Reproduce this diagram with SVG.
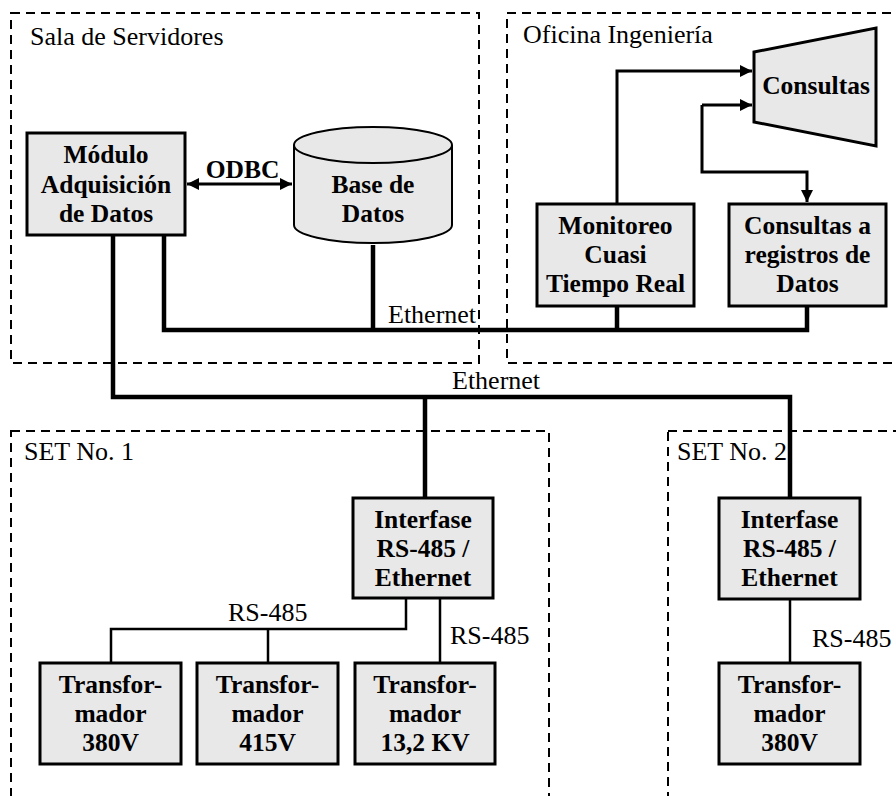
<svg xmlns="http://www.w3.org/2000/svg" width="896" height="796" viewBox="0 0 896 796">
<style>
.zone{fill:none;stroke:#000;stroke-width:2;stroke-dasharray:9 6}
.box{fill:#e8e8e8;stroke:#000;stroke-width:3}
.cyl{fill:#e8e8e8;stroke:#000;stroke-width:2}
.eth{fill:none;stroke:#000;stroke-width:4.5;stroke-linejoin:miter}
.arr{fill:none;stroke:#000;stroke-width:3}
.rs{fill:none;stroke:#000;stroke-width:2.5}
text{font-family:"Liberation Serif","Times New Roman",serif;font-size:26px;fill:#000}
.b{font-weight:bold;text-anchor:middle;font-size:25.5px}
</style>
<defs>
<marker id="ah" viewBox="0 0 10 10" refX="10" refY="5" markerWidth="4.5" markerHeight="4" markerUnits="strokeWidth" orient="auto-start-reverse">
<path d="M0,0 L10,5 L0,10 z" fill="#000"/>
</marker>
</defs>
<g id="zones">
<rect class="zone" x="11" y="13" width="468" height="350"/>
<text x="30" y="45">Sala de Servidores</text>
<rect class="zone" x="507" y="13" width="400" height="350"/>
<text x="523" y="43">Oficina Ingeniería</text>
<rect class="zone" x="11" y="431" width="538" height="380"/>
<text x="24" y="460">SET No. 1</text>
<rect class="zone" x="668" y="431" width="240" height="380"/>
<text x="677" y="460">SET No. 2</text>
</g>
<g id="connectors">
<path class="eth" d="M164,235 V330 H807 V306"/>
<path class="eth" d="M373,245 V330"/>
<path class="eth" d="M617,306 V330"/>
<path class="eth" d="M113,235 V397 H790 V498"/>
<path class="eth" d="M425,397 V498"/>
<text x="388" y="323">Ethernet</text>
<text x="452" y="389">Ethernet</text>
<path class="arr" d="M187,184 H292" marker-start="url(#ah)" marker-end="url(#ah)"/>
<text class="b" x="242.5" y="178">ODBC</text>
<path class="arr" d="M617,204 V71 H752" marker-end="url(#ah)"/>
<path class="arr" d="M702,105 H752" marker-end="url(#ah)"/>
<path class="arr" d="M702,105 V172 H807 V202" marker-end="url(#ah)"/>
<path class="rs" d="M406,598 V629 H111 V663"/>
<path class="rs" d="M268,629 V663"/>
<path class="rs" d="M440,598 V663"/>
<path class="rs" d="M790,599 V663"/>
<text x="228" y="621">RS-485</text>
<text x="450" y="644">RS-485</text>
<text x="812" y="647">RS-485</text>
</g>
<g id="modulo">
<rect class="box" x="27" y="133" width="158" height="102"/>
<text class="b" x="106" y="163">Módulo</text>
<text class="b" x="106" y="193">Adquisición</text>
<text class="b" x="106" y="222">de Datos</text>
</g>
<g id="basedatos">
<path class="cyl" d="M294,145 V225 A79,18 0 0 0 452,225 V145 A79,18 0 0 0 294,145 Z"/>
<path class="cyl" d="M294,145 A79,18 0 0 0 452,145"/>
<text class="b" x="373" y="193">Base de</text>
<text class="b" x="373" y="222">Datos</text>
</g>
<g id="consultas">
<polygon class="box" points="754,52 876,28 876,146 754,122"/>
<text class="b" x="816" y="94">Consultas</text>
</g>
<g id="monitoreo">
<rect class="box" x="537" y="204" width="157" height="102"/>
<text class="b" x="615.5" y="234">Monitoreo</text>
<text class="b" x="615.5" y="263">Cuasi</text>
<text class="b" x="615.5" y="292">Tiempo Real</text>
</g>
<g id="consultas-registros">
<rect class="box" x="729" y="204" width="157" height="102"/>
<text class="b" x="807.5" y="234">Consultas a</text>
<text class="b" x="807.5" y="263">registros de</text>
<text class="b" x="807.5" y="292">Datos</text>
</g>
<g id="interfase1">
<rect class="box" x="353" y="498" width="140" height="100"/>
<text class="b" x="423" y="528">Interfase</text>
<text class="b" x="423" y="557">RS-485 /</text>
<text class="b" x="423" y="586">Ethernet</text>
</g>
<g id="interfase2">
<rect class="box" x="719" y="498" width="141" height="101"/>
<text class="b" x="789.5" y="528">Interfase</text>
<text class="b" x="789.5" y="557">RS-485 /</text>
<text class="b" x="789.5" y="586">Ethernet</text>
</g>
<g id="transf1">
<rect class="box" x="40" y="663" width="141" height="101"/>
<text class="b" x="110.5" y="693">Transfor-</text>
<text class="b" x="110.5" y="722">mador</text>
<text class="b" x="110.5" y="751">380V</text>
</g>
<g id="transf2">
<rect class="box" x="197" y="663" width="141" height="101"/>
<text class="b" x="267.5" y="693">Transfor-</text>
<text class="b" x="267.5" y="722">mador</text>
<text class="b" x="267.5" y="751">415V</text>
</g>
<g id="transf3">
<rect class="box" x="355" y="663" width="140" height="101"/>
<text class="b" x="425" y="693">Transfor-</text>
<text class="b" x="425" y="722">mador</text>
<text class="b" x="425" y="751">13,2 KV</text>
</g>
<g id="transf4">
<rect class="box" x="719" y="663" width="141" height="101"/>
<text class="b" x="789.5" y="693">Transfor-</text>
<text class="b" x="789.5" y="722">mador</text>
<text class="b" x="789.5" y="751">380V</text>
</g>
</svg>
